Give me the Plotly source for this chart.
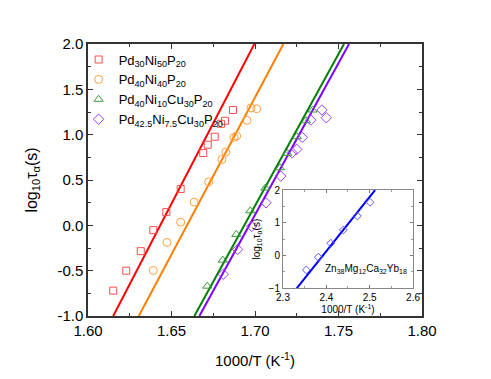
import plotly.graph_objects as go

# ---- data ----
pd30_x = [1.6151, 1.6229, 1.6316, 1.6391, 1.6469, 1.6555, 1.6690, 1.6717, 1.6759, 1.6796, 1.6820, 1.6868]
pd30_y = [-0.72, -0.50, -0.285, -0.053, 0.146, 0.40, 0.797, 0.889, 0.977, 1.12, 1.153, 1.272]

pd40_x = [1.6391, 1.6473, 1.6555, 1.6636, 1.6723, 1.6802, 1.6825, 1.6874, 1.6890, 1.6952, 1.6976, 1.7010]
pd40_y = [-0.498, -0.189, 0.035, 0.256, 0.48, 0.727, 0.808, 0.97, 0.985, 1.158, 1.294, 1.286]

cu30_x = [1.6714, 1.6807, 1.6888, 1.6972, 1.7062, 1.7150, 1.7193, 1.7250, 1.7305, 1.7345]
cu30_y = [-0.671, -0.384, -0.10, 0.16, 0.411, 0.635, 0.794, 0.977, 1.153, 1.272]

pd425_x = [1.6810, 1.6896, 1.6980, 1.7066, 1.7154, 1.7222, 1.7250, 1.7283, 1.7335, 1.7401, 1.7427]
pd425_y = [-0.539, -0.266, -0.012, 0.248, 0.543, 0.80, 0.838, 0.97, 1.161, 1.272, 1.187]

# fitted lines: x where log10(tau) = -1 and = 2
fit_y = [-1.0, 2.0]
pd30_fit_x = [1.6151, 1.6996]
pd40_fit_x = [1.6304, 1.7170]
cu30_fit_x = [1.6637, 1.7533]
pd425_fit_x = [1.6667, 1.7563]

# inset: Zn38Mg12Ca32Yb18
zn_x = [2.3538, 2.3815, 2.4102, 2.4393, 2.4716, 2.5009]
zn_y = [-0.44, -0.05, 0.375, 0.78, 1.207, 1.625]
zn_fit_x = [2.3316, 2.5125]

x_ticks = [1.60, 1.65, 1.70, 1.75, 1.80]
y_ticks = [-1.0, -0.5, 0.0, 0.5, 1.0, 1.5, 2.0]
inset_x_ticks = [2.3, 2.4, 2.5, 2.6]
inset_y_ticks = [-1, 0, 1, 2]

FONT = "Liberation Sans, Arial, sans-serif"

series = [
    ("Pd<sub>30</sub>Ni<sub>50</sub>P<sub>20</sub>", pd30_x, pd30_y, pd30_fit_x, "square-open", "#FF0000", "#FF4C4C", 7),
    ("Pd<sub>40</sub>Ni<sub>40</sub>P<sub>20</sub>", pd40_x, pd40_y, pd40_fit_x, "circle-open", "#FF8000", "#FFA040", 8),
    ("Pd<sub>40</sub>Ni<sub>10</sub>Cu<sub>30</sub>P<sub>20</sub>", cu30_x, cu30_y, cu30_fit_x, "triangle-up-open", "#008000", "#3A9A3A", 8),
    ("Pd<sub>42.5</sub>Ni<sub>7.5</sub>Cu<sub>30</sub>P<sub>20</sub>", pd425_x, pd425_y, pd425_fit_x, "diamond-open", "#8000FF", "#9B40FF", 8),
]

fig = go.Figure()
for name, xs, ys, fx, sym, lc, mc, ms in series:
    fig.add_trace(go.Scatter(x=fx, y=fit_y, mode="lines", line=dict(color=lc, width=2),
                             showlegend=False, hoverinfo="skip"))
for name, xs, ys, fx, sym, lc, mc, ms in series:
    fig.add_trace(go.Scatter(x=xs, y=ys, mode="markers", name=name,
                             marker=dict(symbol=sym, size=ms, color=mc, line=dict(width=1, color=mc))))

# inset
fig.add_trace(go.Scatter(x=zn_fit_x, y=fit_y, mode="lines", line=dict(color="#0000FF", width=2),
                         showlegend=False, xaxis="x2", yaxis="y2", hoverinfo="skip"))
fig.add_trace(go.Scatter(x=zn_x, y=zn_y, mode="markers", showlegend=False, xaxis="x2", yaxis="y2",
                         marker=dict(symbol="diamond-open", size=6, color="#5A5AFF", line=dict(width=1, color="#5A5AFF"))))

axcol = "#333333"
fig.update_layout(
    width=483, height=371,
    margin=dict(l=80, r=69, t=36, b=63, autoexpand=False),
    paper_bgcolor="white", plot_bgcolor="white",
    font=dict(family=FONT, color="black"),
    showlegend=True,
    legend=dict(x=-0.028, y=0.998, xanchor="left", yanchor="top", bgcolor="rgba(0,0,0,0)",
                font=dict(size=13, family=FONT), itemwidth=30, tracegroupgap=0,
                borderwidth=0),
    xaxis=dict(range=[1.60, 1.80], tickvals=x_ticks, ticktext=[f"{v:.2f}" for v in x_ticks],
               ticks="inside", ticklen=5, tickwidth=1.3, tickcolor=axcol,
               minor=dict(ticks="inside", ticklen=3, dtick=0.025, tickcolor=axcol, tickwidth=1.3),
               showline=True, linecolor=axcol, linewidth=1.5, mirror="ticks",
               showgrid=False, zeroline=False, automargin=False,
               tickfont=dict(size=15, family=FONT),
               title=dict(text="1000/T (K<sup>-1</sup>)", font=dict(size=15, family=FONT), standoff=18)),
    yaxis=dict(range=[-1.0, 2.0], tickvals=y_ticks, ticktext=[f"{v:.1f}" for v in y_ticks],
               ticks="inside", ticklen=5, tickwidth=1.3, tickcolor=axcol,
               minor=dict(ticks="inside", ticklen=3, dtick=0.25, tickcolor=axcol, tickwidth=1.3),
               showline=True, linecolor=axcol, linewidth=1.5, mirror="ticks",
               showgrid=False, zeroline=False, automargin=False,
               tickfont=dict(size=15, family=FONT),
               title=dict(text="log<sub>10</sub>τ<sub>α</sub>(s)", font=dict(size=16, family=FONT), standoff=16)),
    xaxis2=dict(domain=[0.5838, 0.9731], anchor="y2", range=[2.3, 2.6], tickvals=inset_x_ticks,
                ticks="inside", ticklen=3, tickcolor="#777777",
                minor=dict(ticks="inside", ticklen=2, dtick=0.05, tickcolor="#999999"),
                showline=True, linecolor="#888888", linewidth=1, mirror="ticks", automargin=False,
                showgrid=False, zeroline=False, tickfont=dict(size=10, family=FONT),
                title=dict(text="1000/T (K<sup>-1</sup>)", font=dict(size=10, family=FONT), standoff=1)),
    yaxis2=dict(domain=[0.1018, 0.4632], anchor="x2", range=[-1, 2], tickvals=inset_y_ticks,
                ticks="inside", ticklen=3, tickcolor="#777777",
                minor=dict(ticks="inside", ticklen=2, dtick=0.5, tickcolor="#999999"),
                showline=True, linecolor="#888888", linewidth=1, mirror="ticks", automargin=False,
                showgrid=False, zeroline=False, tickfont=dict(size=10, family=FONT),
                title=dict(text="log<sub>10</sub>τ<sub>α</sub>(s)", font=dict(size=10, family=FONT), standoff=6)),
)

fig.add_annotation(xref="x2", yref="y2", x=2.392, y=-0.41, xanchor="left", yanchor="middle",
                   text="Zn<sub>38</sub>Mg<sub>12</sub>Ca<sub>32</sub>Yb<sub>18</sub>",
                   showarrow=False, font=dict(size=10, family=FONT, color="black"))

fig.write_html("out.html")
